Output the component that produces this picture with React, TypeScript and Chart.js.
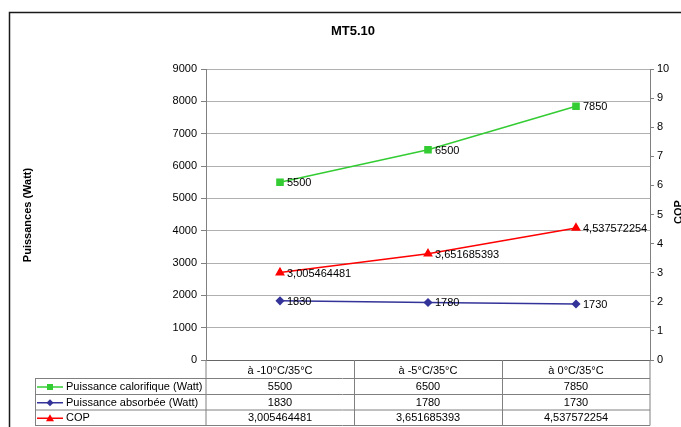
import React, { useEffect, useRef } from "react";
import { Chart, registerables } from "chart.js";

Chart.register(...registerables);

const chartTitle = "MT5.10";
const categories = ["à -10°C/35°C", "à -5°C/35°C", "à 0°C/35°C"];
const calorifique = [5500, 6500, 7850];
const absorbee = [1830, 1780, 1730];
const cop = [3.005464481, 3.651685393, 4.537572254];
const seriesNames = ["Puissance calorifique (Watt)", "Puissance absorbée (Watt)", "COP"];
const leftAxisTitle = "Puissances (Watt)";
const rightAxisTitle = "COP";

const FONT = "'Liberation Sans', Arial, sans-serif";
const colors = ["#33CC33", "#333399", "#FF0000"];
const shapes = ["rect", "rectRot", "triangle"];

const fmt = (v: number) => String(v).replace(".", ",");

function drawMarker(ctx: CanvasRenderingContext2D, shape: string, x: number, y: number, color: string) {
  ctx.save();
  ctx.fillStyle = color;
  ctx.beginPath();
  if (shape === "rect") {
    ctx.rect(x - 3, y - 3, 6, 6);
  } else if (shape === "rectRot") {
    ctx.moveTo(x, y - 3.5);
    ctx.lineTo(x + 3.5, y);
    ctx.lineTo(x, y + 3.5);
    ctx.lineTo(x - 3.5, y);
    ctx.closePath();
  } else {
    ctx.moveTo(x, y - 4);
    ctx.lineTo(x + 4, y + 3);
    ctx.lineTo(x - 4, y + 3);
    ctx.closePath();
  }
  ctx.fill();
  ctx.restore();
}

const decorPlugin = {
  id: "decor",
  afterDatasetsDraw(chart: any) {
    const ctx: CanvasRenderingContext2D = chart.ctx;
    ctx.save();
    ctx.font = `11px ${FONT}`;
    ctx.fillStyle = "#000";
    ctx.textAlign = "left";
    ctx.textBaseline = "middle";
    chart.data.datasets.forEach((ds: any, di: number) => {
      const meta = chart.getDatasetMeta(di);
      meta.data.forEach((pt: any, i: number) => {
        ctx.fillText(fmt(ds.data[i]), pt.x + 7, pt.y + 1);
      });
    });
    ctx.restore();
  },
  afterDraw(chart: any) {
    const ctx: CanvasRenderingContext2D = chart.ctx;
    const area = chart.chartArea;
    const xs = chart.scales.x;
    ctx.save();

    // outer frame
    ctx.strokeStyle = "#1a1a1a";
    ctx.lineWidth = 1.5;
    ctx.beginPath();
    ctx.moveTo(9.5, 427);
    ctx.lineTo(9.5, 12.5);
    ctx.lineTo(681, 12.5);
    ctx.stroke();

    // title
    ctx.fillStyle = "#000";
    ctx.font = `bold 13px ${FONT}`;
    ctx.textAlign = "center";
    ctx.textBaseline = "middle";
    ctx.fillText(chartTitle, 353, 31);

    // axis titles
    ctx.font = `bold 11px ${FONT}`;
    ctx.save();
    ctx.translate(28, 215);
    ctx.rotate(-Math.PI / 2);
    ctx.fillText(leftAxisTitle, 0, 0);
    ctx.restore();
    ctx.save();
    ctx.translate(679, 212);
    ctx.rotate(-Math.PI / 2);
    ctx.fillText(rightAxisTitle, 0, 0);
    ctx.restore();

    // data table
    const rowLines = [378, 394, 409.5, 425];
    const tableLeft = 35;
    const bounds: number[] = [area.left];
    for (let i = 0; i < categories.length - 1; i++) {
      bounds.push(Math.round((xs.getPixelForValue(i) + xs.getPixelForValue(i + 1)) / 2) + 0.5);
    }
    bounds.push(area.right);
    ctx.strokeStyle = "#808080";
    ctx.lineWidth = 1;
    ctx.beginPath();
    rowLines.forEach((y) => {
      ctx.moveTo(tableLeft, y + 0.5);
      ctx.lineTo(area.right, y + 0.5);
    });
    ctx.moveTo(tableLeft + 0.5, rowLines[0]);
    ctx.lineTo(tableLeft + 0.5, rowLines[3] + 0.5);
    bounds.forEach((bx) => {
      ctx.moveTo(bx, area.bottom);
      ctx.lineTo(bx, rowLines[3] + 0.5);
    });
    ctx.stroke();

    const series = [calorifique, absorbee, cop];
    ctx.font = `11px ${FONT}`;
    ctx.textBaseline = "middle";
    series.forEach((vals, r) => {
      const cy = (rowLines[r] + rowLines[r + 1]) / 2 + 1;
      ctx.strokeStyle = colors[r];
      ctx.lineWidth = 1.5;
      ctx.beginPath();
      ctx.moveTo(37, cy);
      ctx.lineTo(63, cy);
      ctx.stroke();
      drawMarker(ctx, shapes[r], 50, cy, colors[r]);
      ctx.fillStyle = "#000";
      ctx.textAlign = "left";
      ctx.fillText(seriesNames[r], 66, cy);
      ctx.textAlign = "center";
      vals.forEach((v, i) => {
        ctx.fillText(fmt(v), xs.getPixelForValue(i), cy);
      });
    });
    ctx.restore();
  },
};

export default function App() {
  const ref = useRef<HTMLCanvasElement>(null);
  useEffect(() => {
    if (!ref.current) return;
    Chart.defaults.font.family = FONT;
    Chart.defaults.color = "#000";
    const chart = new Chart(ref.current, {
      type: "line",
      data: {
        labels: categories,
        datasets: [
          {
            label: seriesNames[0],
            data: calorifique,
            borderColor: colors[0],
            backgroundColor: colors[0],
            pointStyle: "rect",
            pointRadius: 4.3,
            borderWidth: 1.5,
            yAxisID: "y",
          },
          {
            label: seriesNames[1],
            data: absorbee,
            borderColor: colors[1],
            backgroundColor: colors[1],
            pointStyle: "rectRot",
            pointRadius: 3.5,
            borderWidth: 1.5,
            yAxisID: "y",
          },
          {
            label: seriesNames[2],
            data: cop,
            borderColor: colors[2],
            backgroundColor: colors[2],
            pointStyle: "triangle",
            pointRadius: 4.2,
            borderWidth: 1.5,
            yAxisID: "y1",
          },
        ],
      },
      options: {
        responsive: false,
        animation: false,
        layout: { padding: { top: 69, left: 0, right: 0, bottom: 0 } },
        plugins: { legend: { display: false }, tooltip: { enabled: false }, title: { display: false } },
        scales: {
          x: {
            offset: true,
            grid: { display: true, drawOnChartArea: false, drawTicks: false },
            border: { display: true, color: "#666", width: 1 },
            ticks: { font: { size: 11 }, padding: 4, color: "#000", maxRotation: 0 },
            afterFit: (s: any) => {
              s.height = 67;
            },
          },
          y: {
            position: "left",
            min: 0,
            max: 9000,
            ticks: {
              stepSize: 1000,
              font: { size: 11 },
              padding: 4,
              color: "#000",
              callback: (v: any) => String(v),
            },
            grid: { color: "#b0b0b0", lineWidth: 1, tickLength: 5, tickColor: "#808080" },
            border: { color: "#808080", width: 1 },
            afterFit: (s: any) => {
              s.width = 206;
            },
          },
          y1: {
            position: "right",
            min: 0,
            max: 10,
            ticks: {
              stepSize: 1,
              font: { size: 11 },
              padding: 3,
              color: "#000",
              callback: (v: any) => String(v),
            },
            grid: { drawOnChartArea: false, tickLength: 4, tickColor: "#808080" },
            border: { color: "#808080", width: 1 },
            afterFit: (s: any) => {
              s.width = 31;
            },
          },
        },
      },
      plugins: [decorPlugin],
    });
    return () => chart.destroy();
  }, []);
  return (
    <div style={{ position: "fixed", left: 0, top: 0, width: 681, height: 427, background: "#fff" }}>
      <canvas ref={ref} width={681} height={427} />
    </div>
  );
}
